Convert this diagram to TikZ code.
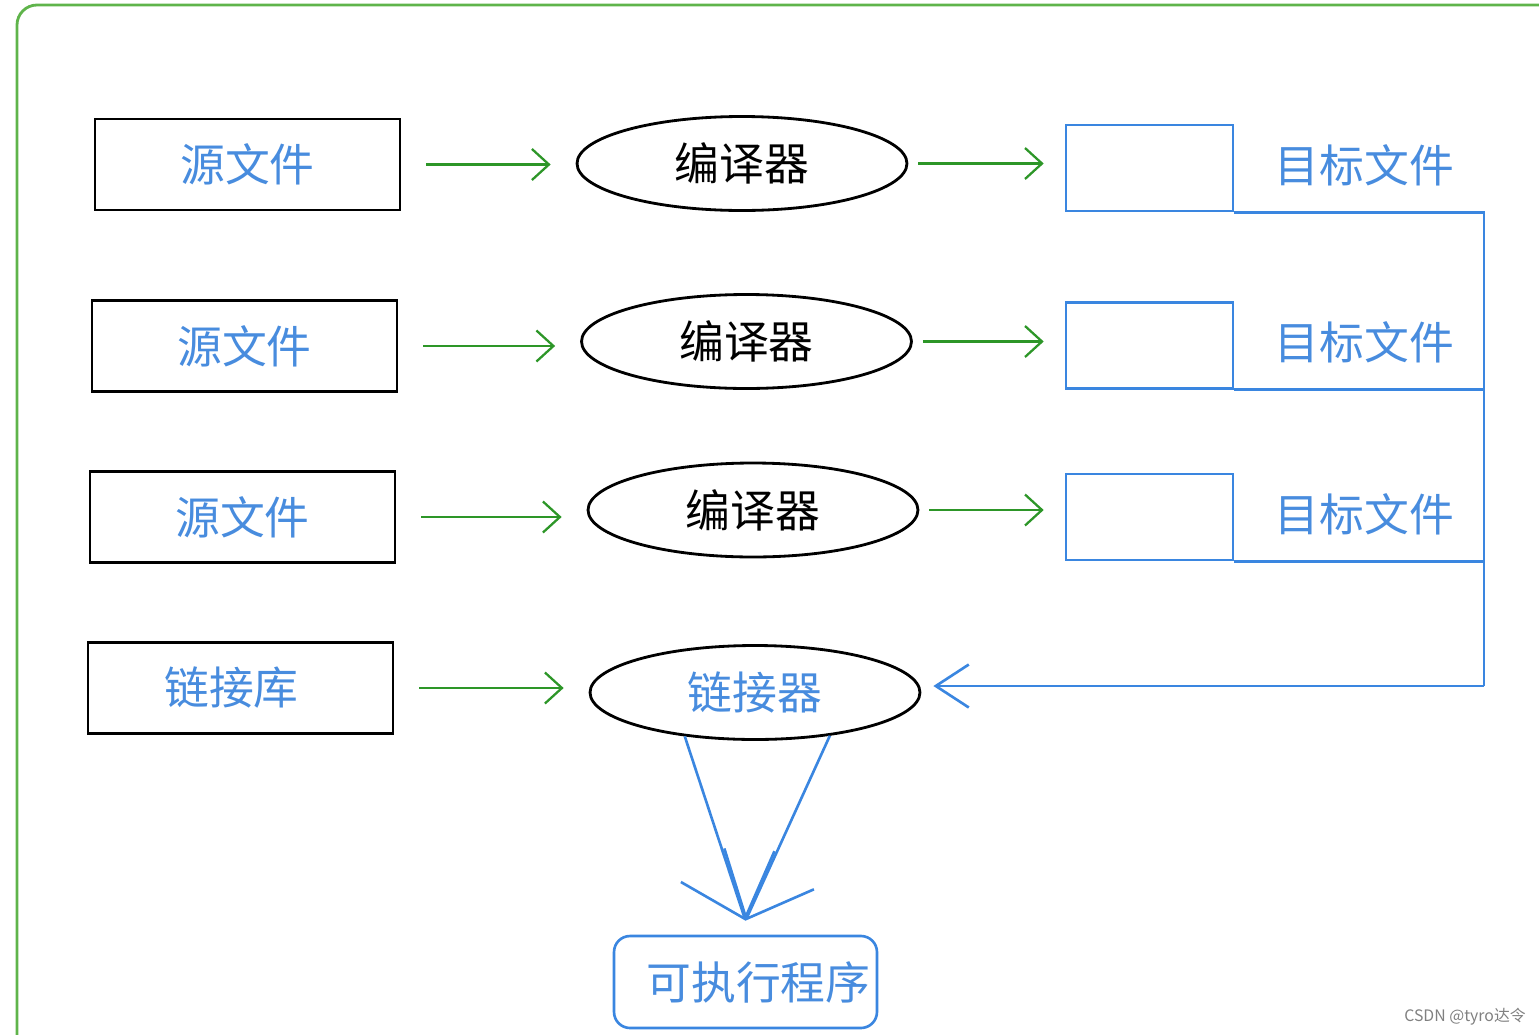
\documentclass[tikz,border=0pt]{standalone}
\usepackage{fontspec}
\setmainfont{Noto Sans CJK SC}
\usetikzlibrary{shapes.geometric,arrows.meta,positioning}
\definecolor{lineblue}{RGB}{58,134,224}
\definecolor{textblue}{RGB}{72,140,222}
\definecolor{arrgreen}{RGB}{45,150,40}
\definecolor{framegreen}{RGB}{95,180,75}
\newcommand{\cnbig}{\fontsize{25.5}{30}\selectfont}

\begin{document}
\begin{tikzpicture}[x=0.02cm,y=-0.02cm,
  srcbox/.style={draw=black,line width=1.6pt,minimum width=6.1cm,
    minimum height=1.82cm,inner sep=0pt,text=textblue,font=\cnbig},
  tool/.style={ellipse,draw=black,line width=1.6pt,minimum width=6.6cm,
    minimum height=1.88cm,inner sep=0pt,font=\cnbig},
  objbox/.style={draw=lineblue,line width=1.5pt,minimum width=3.34cm,
    minimum height=1.72cm,inner sep=0pt},
  objlabel/.style={text=textblue,font=\cnbig,inner sep=0pt,yshift=0.06cm},
  greenarr/.style={arrgreen,line width=1.3pt,
    -{Straight Barb[length=0.34cm,width=0.62cm]}},
  bluebus/.style={lineblue,line width=1.5pt}]

\useasboundingbox (0,0) rectangle (1539,1035);

% frame
\draw[framegreen,line width=1.6pt,rounded corners=0.4cm]
  (17,1035) -- (17,5) -- (1539,5);

% inputs
\node[srcbox] (src1) at (247.5,164.5) {源文件};
\node[srcbox] (src2) at (244.5,346) {源文件};
\node[srcbox] (src3) at (242.5,517) {源文件};
\node[srcbox] (lib) at (240.5,688) {链接库\hspace*{0.36cm}};

% compilers and linker
\node[tool] (cmp1) at (742,163.5) {编译器};
\node[tool] (cmp2) at (746.5,341.5) {编译器};
\node[tool] (cmp3) at (753,510) {编译器};
\node[tool,text=textblue] (lnk) at (755,692.5) {链接器};

% object files
\node[objbox] (obj1) at (1149.5,168) {};
\node[objbox] (obj2) at (1149.5,345.5) {};
\node[objbox] (obj3) at (1149.5,517) {};
\node[objlabel,right=0.8cm of obj1] (objl1) {目标文件};
\node[objlabel,right=0.8cm of obj2] (objl2) {目标文件};
\node[objlabel,right=0.8cm of obj3] (objl3) {目标文件};

\node[draw=lineblue,line width=1.5pt,rounded corners=0.32cm,
  minimum width=5.26cm,minimum height=1.84cm,inner sep=0pt,
  text=textblue,font=\cnbig] (exe) at (745.5,982) {\hspace*{0.52cm}可执行程序};

\begin{scope}[greenarr,shorten <=0.5cm,shorten >=0.5cm]
\draw (src1.east) -- (src1.east -| cmp1.west);
\draw (src2.east) -- (src2.east -| cmp2.west);
\draw (src3.east) -- (src3.east -| cmp3.west);
\draw (lib.east) -- (lib.east -| lnk.west);
\end{scope}

\begin{scope}[greenarr,shorten <=0.2cm,shorten >=0.42cm]
\draw (cmp1.east) -- (cmp1.east -| obj1.west);
\draw (cmp2.east) -- (cmp2.east -| obj2.west);
\draw (cmp3.east) -- (cmp3.east -| obj3.west);
\end{scope}

% objects to linker
\coordinate (bus) at (1484,686);
\draw[bluebus] (obj1.south east) -| (bus);
\draw[bluebus] (obj2.south east) -- (obj2.south east -| bus);
\draw[bluebus] (obj3.south east) -- (obj3.south east -| bus);
\draw[bluebus,-{Straight Barb[length=0.66cm,width=0.86cm]},shorten >=0.24cm]
  (bus) -- (bus -| lnk.east);

% linker to program
\coordinate (tip) at ([yshift=0.28cm]exe.north);
\begin{scope}[bluebus,-{Straight Barb[length=1.1cm,width=1.97cm]}]
\draw (lnk.212) -- (tip);
\draw (lnk.330) -- (tip);
\end{scope}

\node[text=gray,font=\fontsize{9}{11}\selectfont] (wm) at (1465,1017) {CSDN @tyro达令};
\end{tikzpicture}
\end{document}
